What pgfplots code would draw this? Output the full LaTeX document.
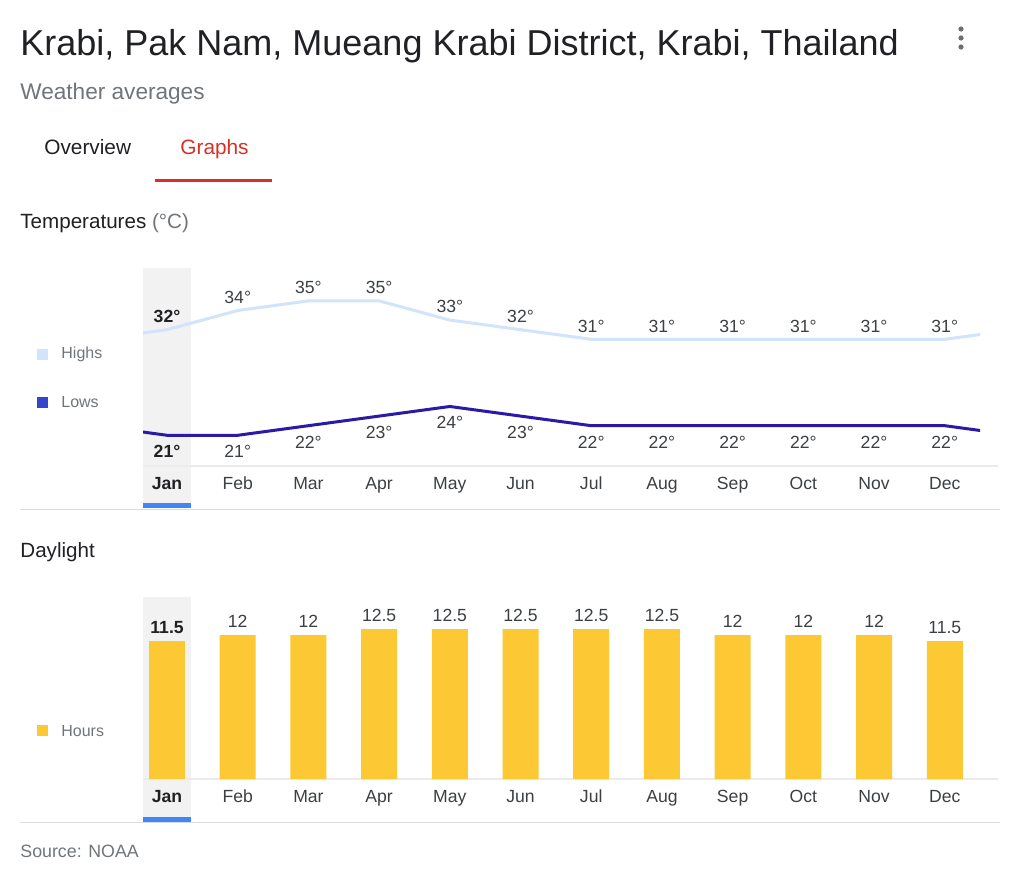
\documentclass[border=0pt]{standalone}
\usepackage{fontspec}
\setmainfont{Liberation Sans}
\usepackage{pgfplots}
\pgfplotsset{compat=1.18}
\definecolor{titlec}{HTML}{202124}
\definecolor{grayt}{HTML}{70757A}
\definecolor{labc}{HTML}{3C4043}
\definecolor{redc}{HTML}{D93025}
\definecolor{sepc}{HTML}{DADCE0}
\definecolor{basec}{HTML}{EBEBEB}
\definecolor{hic}{HTML}{D2E3FC}
\definecolor{loc}{HTML}{2A1AA6}
\definecolor{losq}{HTML}{3346CC}
\definecolor{barc}{HTML}{FCC934}
\definecolor{bluec}{HTML}{4285F4}
\definecolor{shadec}{HTML}{F2F2F2}
\definecolor{dotc}{HTML}{6E6E6E}
\newcommand{\lab}{\fontsize{8.8}{10}\selectfont}
\begin{document}
\begin{tikzpicture}
\begin{scope}[x=0.5pt,y=-0.5pt]
\path[use as bounding box] (0,0) rectangle (1024,879);
\fill[white] (0,0) rectangle (1024,879);
% header
\node[anchor=base west, inner sep=0, font=\fontsize{18}{20}\selectfont, text=titlec] at (20,55) {Krabi, Pak Nam, Mueang Krabi District, Krabi, Thailand};
\foreach \yy in {29,38,47} \fill[dotc] (961,\yy) circle[radius=1.3pt];
\node[anchor=base west, inner sep=0, font=\fontsize{11.3}{13}\selectfont, text=grayt] at (20,99) {Weather averages};
\node[anchor=base west, inner sep=0, font=\fontsize{10.4}{12}\selectfont, text=titlec] at (44,154) {Overview};
\node[anchor=base west, inner sep=0, font=\fontsize{10.4}{12}\selectfont, text=redc] at (180,154) {Graphs};
\fill[redc] (155,179) rectangle (272,182);
\node[anchor=base west, inner sep=0, font=\fontsize{10.3}{12}\selectfont, text=titlec] at (20,228) {Temperatures \textcolor{grayt}{(°C)}};
% temperature panel decorations
\fill[shadec] (143,268) rectangle (191,503);
\fill[bluec] (143,503) rectangle (191,508);
\draw[basec, line width=0.6pt] (143,466) -- (998,466);
\draw[sepc, line width=0.8pt] (20,509.5) -- (1000,509.5);
\fill[hic] (37,349) rectangle (48,360);
\node[anchor=west, inner sep=0, font=\fontsize{8}{10}\selectfont, text=grayt] at (61,354) {Highs};
\fill[losq] (37,397) rectangle (48,408);
\node[anchor=west, inner sep=0, font=\fontsize{8}{10}\selectfont, text=grayt] at (61,402) {Lows};
% daylight panel decorations
\node[anchor=base west, inner sep=0, font=\fontsize{10.3}{12}\selectfont, text=titlec] at (20,557) {Daylight};
\fill[shadec] (143,597) rectangle (191,817);
\fill[bluec] (143,817) rectangle (191,821.5);
\draw[basec, line width=0.6pt] (143,779) -- (998,779);
\draw[sepc, line width=0.8pt] (20,822.5) -- (1000,822.5);
\fill[barc] (37,725) rectangle (48,736);
\node[anchor=west, inner sep=0, font=\fontsize{8}{10}\selectfont, text=grayt] at (61,731) {Hours};
\node[anchor=base west, inner sep=0, font=\fontsize{8.9}{10}\selectfont, text=grayt] at (20,857) {Source: NOAA};
\end{scope}

% Temperatures
\begin{axis}[
 at={(71.5pt,-233pt)}, anchor=south west,
 scale only axis, width=418.55pt, height=104.16pt,
 xmin=-0.34, xmax=11.5, ymin=17.8, ymax=39.5,
 axis line style={draw=none}, major tick length=0pt,
 ytick=\empty, xtick={0,...,11},
 xticklabels={\textbf{\textcolor{titlec}{Jan}},Feb,Mar,Apr,May,Jun,Jul,Aug,Sep,Oct,Nov,Dec},
 xticklabel style={anchor=base, yshift=-11.5pt, font=\lab, text=labc},
 /pgf/number format/assume math mode=true,
 every node near coord/.append style={font=\lab, text=labc},
]
\addplot[hic, line width=1.5pt] coordinates {(-1,31)(0,32)(1,34)(2,35)(3,35)(4,33)(5,32)(6,31)(7,31)(8,31)(9,31)(10,31)(11,31)(12,32)};
\addplot[loc, line width=1.5pt] coordinates {(-1,22)(0,21)(1,21)(2,22)(3,23)(4,24)(5,23)(6,22)(7,22)(8,22)(9,22)(10,22)(11,22)(12,21)};
\addplot[draw=none, nodes near coords={\textbf{\textcolor{titlec}{\pgfmathprintnumber{\pgfplotspointmeta}°}}}, nodes near coords align={above}] coordinates {(0,32)};
\addplot[draw=none, nodes near coords={\pgfmathprintnumber{\pgfplotspointmeta}°}, nodes near coords align={above}] coordinates {(1,34)(2,35)(3,35)(4,33)(5,32)(6,31)(7,31)(8,31)(9,31)(10,31)(11,31)};
\addplot[draw=none, nodes near coords={\textbf{\textcolor{titlec}{\pgfmathprintnumber{\pgfplotspointmeta}°}}}, nodes near coords align={below}, every node near coord/.append style={yshift=-1.5pt}] coordinates {(0,21)};
\addplot[draw=none, nodes near coords={\pgfmathprintnumber{\pgfplotspointmeta}°}, nodes near coords align={below}, every node near coord/.append style={yshift=-1.5pt}] coordinates {(1,21)(2,22)(3,23)(4,24)(5,23)(6,22)(7,22)(8,22)(9,22)(10,22)(11,22)};
\end{axis}

% Daylight
\begin{axis}[
 at={(71.5pt,-389.5pt)}, anchor=south west,
 scale only axis, width=418.55pt, height=91.2pt,
 xmin=-0.34, xmax=11.5, ymin=0, ymax=15.2,
 axis line style={draw=none}, major tick length=0pt,
 ytick=\empty, xtick={0,...,11},
 xticklabels={\textbf{\textcolor{titlec}{Jan}},Feb,Mar,Apr,May,Jun,Jul,Aug,Sep,Oct,Nov,Dec},
 xticklabel style={anchor=base, yshift=-11.5pt, font=\lab, text=labc},
 /pgf/number format/assume math mode=true,
 every node near coord/.append style={font=\lab, text=labc},
]
\addplot[ybar, bar width=18pt, fill=barc, draw=none, nodes near coords={\textbf{\textcolor{titlec}{\pgfmathprintnumber{\pgfplotspointmeta}}}}] coordinates {(0,11.5)};
\addplot[ybar, bar width=18pt, fill=barc, draw=none, nodes near coords] coordinates {(1,12)(2,12)(3,12.5)(4,12.5)(5,12.5)(6,12.5)(7,12.5)(8,12)(9,12)(10,12)(11,11.5)};
\end{axis}
\end{tikzpicture}
\end{document}
